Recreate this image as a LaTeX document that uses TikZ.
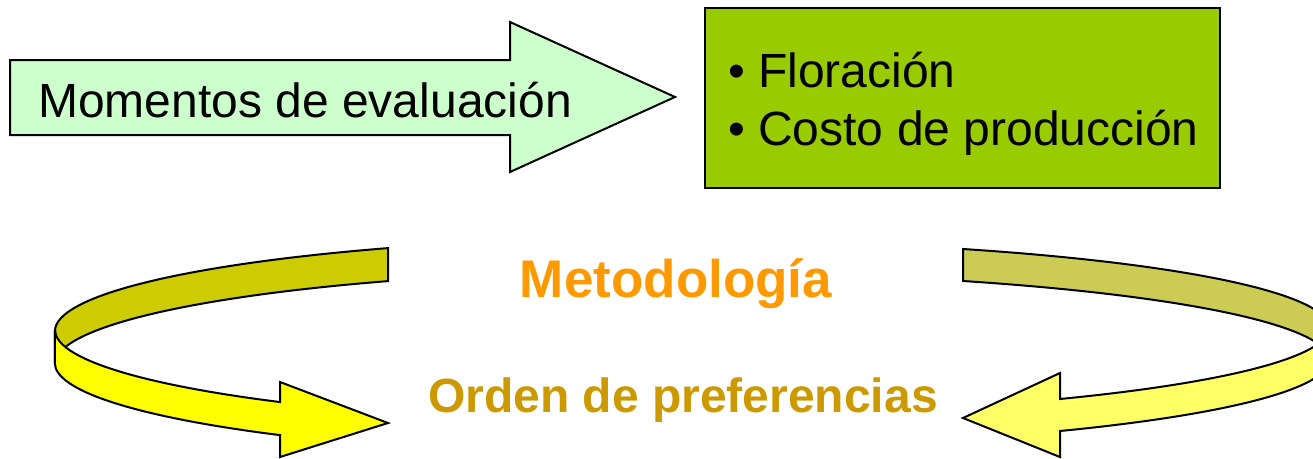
\documentclass[tikz,border=0pt]{standalone}
\usepackage{fontspec}
\setmainfont{Liberation Sans}
\definecolor{paleGreen}{HTML}{CCFFCC}
\definecolor{boxGreen}{HTML}{99CC00}
\definecolor{oliveA}{HTML}{CCCC00}
\definecolor{yellowA}{HTML}{FFFF00}
\definecolor{oliveB}{HTML}{CCCC55}
\definecolor{yellowB}{HTML}{FFFF66}
\definecolor{metOrange}{HTML}{FF9900}
\definecolor{ordGold}{HTML}{CC9900}
\tikzset{
  outl/.style={draw=black, line width=2pt, line join=miter},
  bigtxt/.style={font=\fontsize{48}{57}\selectfont},
  boldtxt/.style={font=\fontsize{#1}{#1}\selectfont\bfseries}
}
\begin{document}
\begin{tikzpicture}[x=1pt,y=1pt]
\tikzstyle{every node}+=[inner sep=0pt]
\useasboundingbox (0,0) rectangle (1313,-458);

% top arrow and box
\draw [outl, fill=paleGreen] (10,-60) -- (510,-60) -- (510,-22) -- (675,-97)
  -- (510,-172) -- (510,-135) -- (10,-135) -- cycle;
\node (mom) [bigtxt, anchor=base west] at (38,-117) {Momentos de evaluación};
\draw [outl, fill=boxGreen] (705,-8) rectangle (1220,-188);
\node (flor) [bigtxt, anchor=base west] at (728,-87) {\textbullet\ Floración};
\node (costo) [bigtxt, anchor=base west] at (728,-145) {\textbullet\ Costo de producción};

% left ribbon
\draw [outl, fill=oliveA] (388,-248.1) arc[start angle=118.07, end angle=180, x radius=629, y radius=94]
  -- ++(0,-33) arc[start angle=180, end angle=118.07, x radius=629, y radius=94] -- cycle;
\draw [outl, fill=yellowA] (55,-330) arc[start angle=180, end angle=230.06, x radius=629, y radius=94]
  -- (280,-382) -- (388,-423) -- (280,-457) -- (280,-435.1)
  arc[start angle=230.06, end angle=180, x radius=629, y radius=94] -- cycle;

% right ribbon
\draw [outl, fill=oliveB] (963,-249) arc[start angle=64.37, end angle=0, x radius=645, y radius=87.5]
  -- ++(0,-32) arc[start angle=0, end angle=64.37, x radius=645, y radius=87.5] -- cycle;
\draw [outl, fill=yellowB] (1329,-327.9) arc[start angle=0, end angle=-54.34, x radius=645, y radius=87.5]
  -- (1060,-373) -- (963,-418) -- (1060,-457) -- (1060,-431)
  arc[start angle=-54.34, end angle=0, x radius=645, y radius=87.5] -- cycle;

% labels
\node (metod) [boldtxt=53, text=metOrange, anchor=base] at (676,-297) {Metodología};
\node (orden) [boldtxt=48, text=ordGold, anchor=base] at (683,-412) {Orden de preferencias};
\end{tikzpicture}
\end{document}
